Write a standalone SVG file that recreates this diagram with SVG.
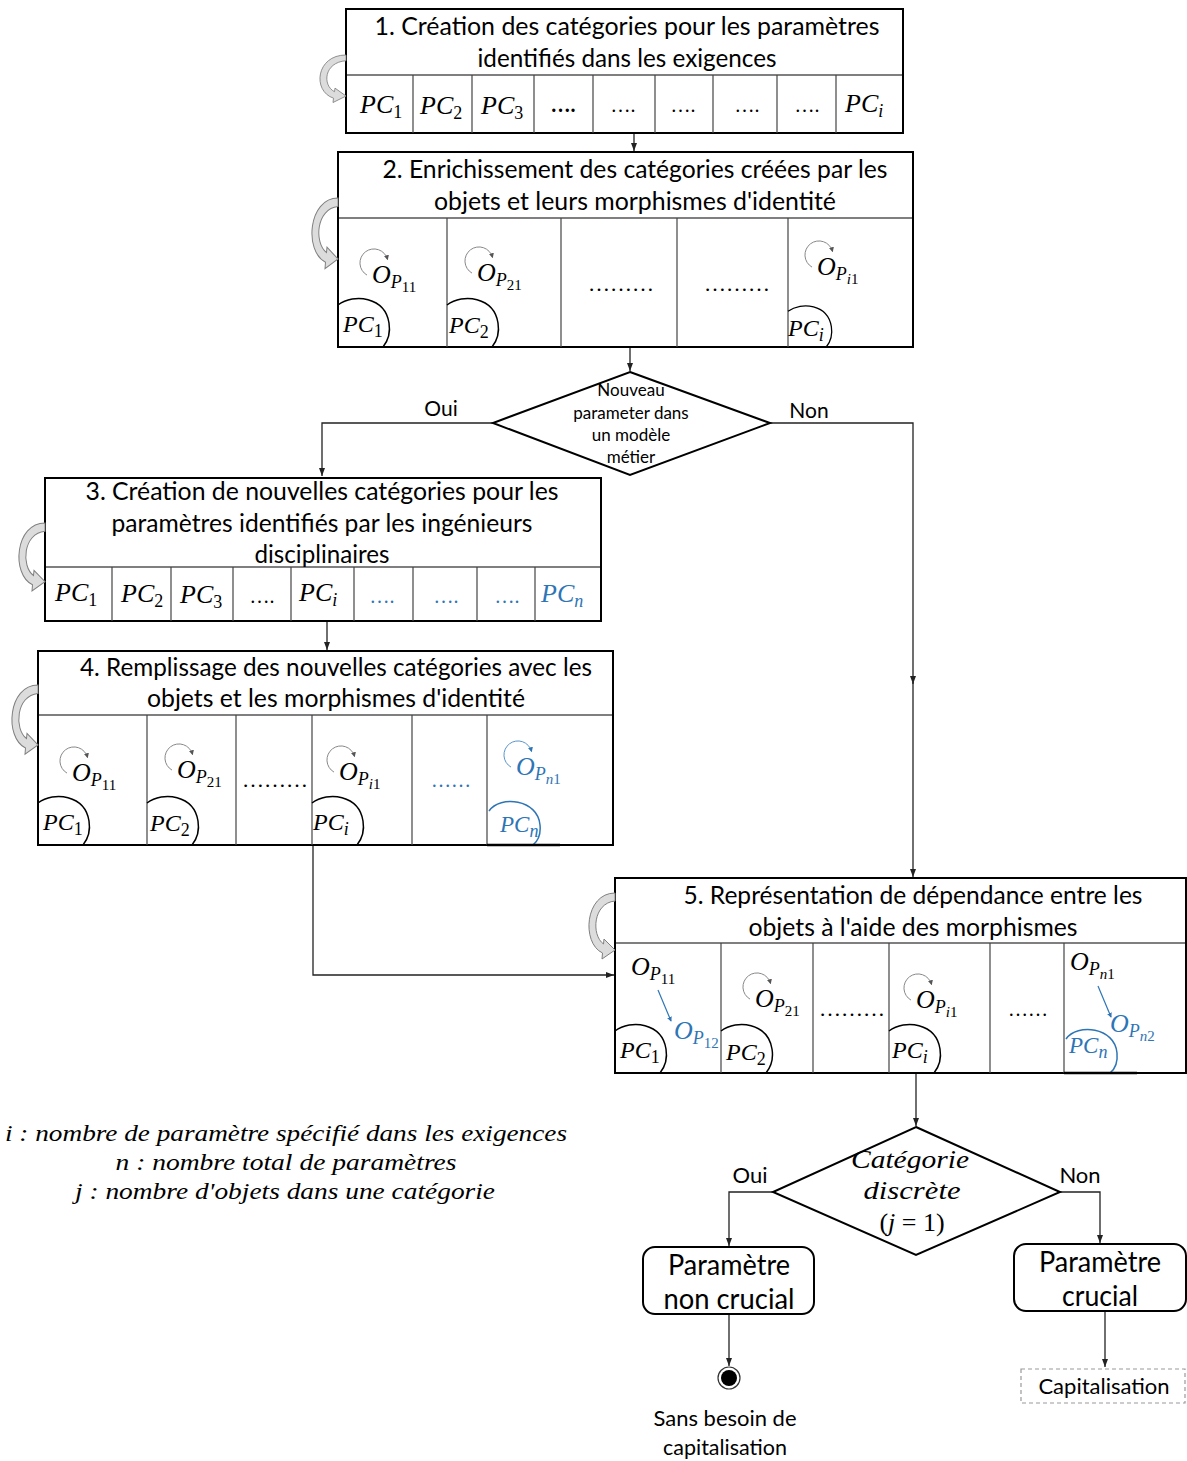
<svg xmlns="http://www.w3.org/2000/svg" xmlns:xlink="http://www.w3.org/1999/xlink" width="1187" height="1461" viewBox="0 0 1187 1461">
<style>
.box{fill:#fff;stroke:#000;stroke-width:2}
.hd{stroke:#000;stroke-width:1.2}
.cd{stroke:#444;stroke-width:1.2}
.t{font-family:Lato,"Open Sans",sans-serif;font-size:25px;fill:#000;text-anchor:middle}
.sm{font-size:17px}
.lb{font-size:21px}
.lb2{font-size:22px}
.big{font-size:28px}
.m{font-family:"Liberation Serif",serif;font-style:italic;font-size:26px;fill:#000}
.c{font-size:24px}
.c23{font-size:23px}
.lg{font-size:24px}
.o{font-family:"Liberation Serif",serif;font-style:italic;font-size:26px;fill:#000}
.p{font-size:18px}
.n{font-size:15px;font-style:normal}
.sb{font-size:18px;font-style:normal}
.it{font-style:italic}
.dots{font-family:"Liberation Serif",serif;font-size:20px;fill:#000;text-anchor:middle}
.d22{font-size:22px}
.blue{fill:#2E75B6}
.conn{fill:none;stroke:#222;stroke-width:1.3}
.curv{fill:#dcdcdc;stroke:#808080;stroke-width:1}
.pcarc{fill:none;stroke:#000;stroke-width:1.5}
.pcarcb{fill:none;stroke:#2E75B6;stroke-width:1.5}
</style>
<defs>
<marker id="ah" viewBox="0 0 8 6" refX="8" refY="3" markerWidth="8" markerHeight="6" markerUnits="userSpaceOnUse" orient="auto"><path d="M0 0 L8 3 L0 6 Z" fill="#222"/></marker>
<marker id="lah" viewBox="0 0 6 6" refX="5" refY="3" markerWidth="5" markerHeight="5" markerUnits="userSpaceOnUse" orient="auto"><path d="M0 0 L6 3 L0 6 Z" fill="#555"/></marker>
<marker id="lahb" viewBox="0 0 6 6" refX="5" refY="3" markerWidth="5" markerHeight="5" markerUnits="userSpaceOnUse" orient="auto"><path d="M0 0 L6 3 L0 6 Z" fill="#2E75B6"/></marker>
<path id="lp" d="M -7 12.1 A 14 14 0 1 1 13.5 -3.6" fill="none" stroke="#888" stroke-width="1" marker-end="url(#lah)"/>
<path id="lpb" d="M -7 12.1 A 14 14 0 1 1 13.5 -3.6" fill="none" stroke="#5a95cc" stroke-width="1" marker-end="url(#lahb)"/>
<path id="pa" class="pcarc" d="M 0 -42 C 16 -54, 47 -50, 51 -24 C 53 -12, 49 -5, 45 0"/>
<path id="pab" class="pcarcb" d="M 1 -34 C 12 -50, 50 -46, 52 -20 C 53 -10, 50 -4, 45 0"/>
<path id="cv" class="curv" d="M 0 0 C -30 0, -34 50, -12.5 60 L -13 66 L 0 57 L -11 46 L -11.5 51 C -24 42, -22 10, 0 8 Z"/>
</defs>

<g id="connectors">
<path class="conn" d="M 634 133 V 151" marker-end="url(#ah)"/>
<path class="conn" d="M 630 347 V 371" marker-end="url(#ah)"/>
<path class="conn" d="M 493 423 H 322 V 476" marker-end="url(#ah)"/>
<path class="conn" d="M 770 423 H 913 V 684" marker-end="url(#ah)"/>
<path class="conn" d="M 913 682 V 877" marker-end="url(#ah)"/>
<path class="conn" d="M 327 621 V 650" marker-end="url(#ah)"/>
<path class="conn" d="M 313 845 V 975 H 614" marker-end="url(#ah)"/>
<path class="conn" d="M 916 1073 V 1126" marker-end="url(#ah)"/>
<path class="conn" d="M 773 1192 H 729 V 1246" marker-end="url(#ah)"/>
<path class="conn" d="M 1060 1192 H 1100 V 1243" marker-end="url(#ah)"/>
<path class="conn" d="M 729 1314 V 1366" marker-end="url(#ah)"/>
<path class="conn" d="M 1105 1311 V 1367" marker-end="url(#ah)"/>
</g>

<g id="step1">
<rect class="box" x="346" y="9" width="557" height="124"/>
<line class="hd" x1="346" y1="75" x2="903" y2="75"/>
<g class="cd"><line x1="413" y1="75" x2="413" y2="133"/><line x1="472" y1="75" x2="472" y2="133"/><line x1="534" y1="75" x2="534" y2="133"/><line x1="593" y1="75" x2="593" y2="133"/><line x1="655" y1="75" x2="655" y2="133"/><line x1="713" y1="75" x2="713" y2="133"/><line x1="777" y1="75" x2="777" y2="133"/><line x1="836" y1="75" x2="836" y2="133"/></g>
<text class="t" x="627" y="35" textLength="505" lengthAdjust="spacingAndGlyphs">1. Création des catégories pour les paramètres</text>
<text class="t" x="627" y="67" textLength="299" lengthAdjust="spacingAndGlyphs">identifiés dans les exigences</text>
<text class="m" x="360" y="113">PC<tspan class="sb" dy="5">1</tspan></text>
<text class="m" x="420" y="114">PC<tspan class="sb" dy="5">2</tspan></text>
<text class="m" x="481" y="114">PC<tspan class="sb" dy="5">3</tspan></text>
<text class="dots" x="563" y="112" font-weight="bold">….</text>
<text class="dots" x="623" y="112">….</text>
<text class="dots" x="683" y="112">….</text>
<text class="dots" x="747" y="112">….</text>
<text class="dots" x="807" y="112">….</text>
<text class="m" x="845" y="112">PC<tspan class="sb it" dy="5">i</tspan></text>
<use href="#cv" transform="translate(346,55) scale(1,0.72)"/>
</g>

<g id="step2">
<rect class="box" x="338" y="152" width="575" height="195"/>
<line class="hd" x1="338" y1="218" x2="913" y2="218"/>
<g class="cd"><line x1="447" y1="218" x2="447" y2="347"/><line x1="561" y1="218" x2="561" y2="347"/><line x1="677" y1="218" x2="677" y2="347"/><line x1="788" y1="218" x2="788" y2="347"/></g>
<text class="t" x="635" y="178" textLength="505" lengthAdjust="spacingAndGlyphs">2. Enrichissement des catégories créées par les</text>
<text class="t" x="635" y="210" textLength="402" lengthAdjust="spacingAndGlyphs">objets et leurs morphismes d'identité</text>
<use href="#lp" transform="translate(374,263)"/>
<text class="o" x="372" y="283">O<tspan class="p" dy="5">P</tspan><tspan class="n" dy="4">11</tspan></text>
<use href="#lp" transform="translate(479,261)"/>
<text class="o" x="477" y="281">O<tspan class="p" dy="5">P</tspan><tspan class="n" dy="4">21</tspan></text>
<text class="dots d22" x="621" y="291">………</text>
<text class="dots d22" x="737" y="291">………</text>
<use href="#lp" transform="translate(819,255)"/>
<text class="o" x="817" y="275">O<tspan class="p" dy="5">P</tspan><tspan class="n" dy="4"><tspan class="it">i</tspan>1</tspan></text>
<use href="#pa" transform="translate(338,347)"/>
<text class="m c" x="343" y="332">PC<tspan class="sb" dy="5">1</tspan></text>
<use href="#pa" transform="translate(447,347)"/>
<text class="m c" x="449" y="333">PC<tspan class="sb" dy="5">2</tspan></text>
<use href="#pa" transform="translate(788,347) scale(0.85)"/>
<text class="m c" x="788" y="336">PC<tspan class="sb it" dy="5">i</tspan></text>
<use href="#cv" transform="translate(338,198) scale(1,1.07)"/>
</g>

<g id="decision1">
<polygon points="630,372 770,423 630,475 493,423" fill="#fff" stroke="#000" stroke-width="2"/>
<text class="t sm" x="631" y="396">Nouveau</text>
<text class="t sm" x="631" y="419">parameter dans</text>
<text class="t sm" x="631" y="441">un modèle</text>
<text class="t sm" x="631" y="463">métier</text>
<text class="t lb" x="441" y="416">Oui</text>
<text class="t lb" x="809" y="418">Non</text>
</g>

<g id="step3">
<rect class="box" x="45" y="478" width="556" height="143"/>
<line class="hd" x1="45" y1="567" x2="601" y2="567"/>
<g class="cd"><line x1="112" y1="567" x2="112" y2="621"/><line x1="171" y1="567" x2="171" y2="621"/><line x1="233" y1="567" x2="233" y2="621"/><line x1="291" y1="567" x2="291" y2="621"/><line x1="354" y1="567" x2="354" y2="621"/><line x1="413" y1="567" x2="413" y2="621"/><line x1="477" y1="567" x2="477" y2="621"/><line x1="535" y1="567" x2="535" y2="621"/></g>
<text class="t" x="322" y="500" textLength="473" lengthAdjust="spacingAndGlyphs">3. Création de nouvelles catégories pour les</text>
<text class="t" x="322" y="532" textLength="421" lengthAdjust="spacingAndGlyphs">paramètres identifiés par les ingénieurs</text>
<text class="t" x="322" y="563" textLength="135" lengthAdjust="spacingAndGlyphs">disciplinaires</text>
<text class="m" x="55" y="601">PC<tspan class="sb" dy="5">1</tspan></text>
<text class="m" x="121" y="602">PC<tspan class="sb" dy="5">2</tspan></text>
<text class="m" x="180" y="603">PC<tspan class="sb" dy="5">3</tspan></text>
<text class="dots" x="262" y="603">….</text>
<text class="m" x="299" y="601">PC<tspan class="sb it" dy="5">i</tspan></text>
<text class="dots blue" x="382" y="603">….</text>
<text class="dots blue" x="446" y="603">….</text>
<text class="dots blue" x="507" y="603">….</text>
<text class="m blue" x="541" y="602">PC<tspan class="sb it" dy="5">n</tspan></text>
<use href="#cv" transform="translate(45,523) scale(1,1.03)"/>
</g>

<g id="step4">
<rect class="box" x="38" y="651" width="575" height="194"/>
<line class="hd" x1="38" y1="715" x2="613" y2="715"/>
<g class="cd"><line x1="147" y1="715" x2="147" y2="845"/><line x1="236" y1="715" x2="236" y2="845"/><line x1="312" y1="715" x2="312" y2="845"/><line x1="412" y1="715" x2="412" y2="845"/><line x1="487" y1="715" x2="487" y2="845"/></g>
<text class="t" x="336" y="676" textLength="512" lengthAdjust="spacingAndGlyphs">4. Remplissage des nouvelles catégories avec les</text>
<text class="t" x="336" y="707" textLength="378" lengthAdjust="spacingAndGlyphs">objets et les morphismes d'identité</text>
<use href="#lp" transform="translate(74,761)"/>
<text class="o" x="72" y="781">O<tspan class="p" dy="5">P</tspan><tspan class="n" dy="4">11</tspan></text>
<use href="#lp" transform="translate(179,758)"/>
<text class="o" x="177" y="778">O<tspan class="p" dy="5">P</tspan><tspan class="n" dy="4">21</tspan></text>
<text class="dots d22" x="275" y="787">………</text>
<use href="#lp" transform="translate(341,760)"/>
<text class="o" x="339" y="780">O<tspan class="p" dy="5">P</tspan><tspan class="n" dy="4"><tspan class="it">i</tspan>1</tspan></text>
<text class="dots blue" x="451" y="787">……</text>
<use href="#lpb" transform="translate(518,755)"/>
<text class="o blue" x="516" y="775">O<tspan class="p" dy="5">P</tspan><tspan class="n" dy="4"><tspan class="it">n</tspan>1</tspan></text>
<use href="#pa" transform="translate(38,845)"/>
<text class="m c" x="43" y="830">PC<tspan class="sb" dy="5">1</tspan></text>
<use href="#pa" transform="translate(147,845)"/>
<text class="m c" x="150" y="831">PC<tspan class="sb" dy="5">2</tspan></text>
<use href="#pa" transform="translate(312,845)"/>
<text class="m c" x="313" y="830">PC<tspan class="sb it" dy="5">i</tspan></text>
<use href="#pab" transform="translate(488,845)"/>
<text class="m c23 blue" x="500" y="832">PC<tspan class="sb it" dy="5">n</tspan></text>
<line x1="487" y1="845" x2="560" y2="845" stroke="#000" stroke-width="2.5"/>
<use href="#cv" transform="translate(38,685) scale(1,1.05)"/>
</g>

<g id="step5">
<rect class="box" x="615" y="878" width="571" height="195"/>
<line class="hd" x1="615" y1="943" x2="1187" y2="943"/>
<g class="cd"><line x1="721" y1="943" x2="721" y2="1073"/><line x1="813" y1="943" x2="813" y2="1073"/><line x1="889" y1="943" x2="889" y2="1073"/><line x1="990" y1="943" x2="990" y2="1073"/><line x1="1064" y1="943" x2="1064" y2="1073"/></g>
<text class="t" x="913" y="904" textLength="459" lengthAdjust="spacingAndGlyphs">5. Représentation de dépendance entre les</text>
<text class="t" x="913" y="936" textLength="329" lengthAdjust="spacingAndGlyphs">objets à l'aide des morphismes</text>
<text class="o" x="631" y="975">O<tspan class="p" dy="5">P</tspan><tspan class="n" dy="4">11</tspan></text>
<line x1="658" y1="990" x2="671" y2="1021" stroke="#2E75B6" stroke-width="1.2" marker-end="url(#lahb)"/>
<text class="o blue" x="674" y="1039">O<tspan class="p" dy="5">P</tspan><tspan class="n" dy="4">12</tspan></text>
<use href="#lp" transform="translate(757,987)"/>
<text class="o" x="755" y="1007">O<tspan class="p" dy="5">P</tspan><tspan class="n" dy="4">21</tspan></text>
<text class="dots d22" x="852" y="1016">………</text>
<use href="#lp" transform="translate(918,988)"/>
<text class="o" x="916" y="1008">O<tspan class="p" dy="5">P</tspan><tspan class="n" dy="4"><tspan class="it">i</tspan>1</tspan></text>
<text class="dots" x="1028" y="1016">……</text>
<text class="o" x="1070" y="970">O<tspan class="p" dy="5">P</tspan><tspan class="n" dy="4"><tspan class="it">n</tspan>1</tspan></text>
<line x1="1098" y1="986" x2="1111" y2="1017" stroke="#2E75B6" stroke-width="1.2" marker-end="url(#lahb)"/>
<text class="o blue" x="1110" y="1032">O<tspan class="p" dy="5">P</tspan><tspan class="n" dy="4"><tspan class="it">n</tspan>2</tspan></text>
<use href="#pa" transform="translate(615,1073)"/>
<text class="m c" x="620" y="1058">PC<tspan class="sb" dy="5">1</tspan></text>
<use href="#pa" transform="translate(721,1073)"/>
<text class="m c" x="726" y="1060">PC<tspan class="sb" dy="5">2</tspan></text>
<use href="#pa" transform="translate(889,1073)"/>
<text class="m c" x="892" y="1058">PC<tspan class="sb it" dy="5">i</tspan></text>
<use href="#pab" transform="translate(1065,1073)"/>
<text class="m c23 blue" x="1069" y="1053">PC<tspan class="sb it" dy="5">n</tspan></text>
<line x1="1064" y1="1073" x2="1137" y2="1073" stroke="#000" stroke-width="2.5"/>
<use href="#cv" transform="translate(615,893) scale(1,1.0)"/>
</g>

<g id="decision2">
<polygon points="916,1127 1060,1192 916,1255 773,1192" fill="#fff" stroke="#000" stroke-width="2"/>
<text class="m" x="910" y="1168" text-anchor="middle" textLength="118" lengthAdjust="spacingAndGlyphs">Catégorie</text>
<text class="m" x="912" y="1199" text-anchor="middle" textLength="97" lengthAdjust="spacingAndGlyphs">discrète</text>
<text class="m" x="912" y="1231" text-anchor="middle"><tspan font-style="normal">(</tspan>j<tspan font-style="normal"> = 1)</tspan></text>
<text class="t lb2" x="750" y="1183">Oui</text>
<text class="t lb2" x="1080" y="1183">Non</text>
</g>

<g id="non-crucial">
<rect x="643" y="1247" width="171" height="67" rx="12" fill="#fff" stroke="#000" stroke-width="2"/>
<text class="t big" x="729" y="1275" textLength="122" lengthAdjust="spacingAndGlyphs">Paramètre</text>
<text class="t big" x="729" y="1309" textLength="131" lengthAdjust="spacingAndGlyphs">non crucial</text>
</g>

<g id="crucial">
<rect x="1014" y="1244" width="172" height="67" rx="12" fill="#fff" stroke="#000" stroke-width="2"/>
<text class="t big" x="1100" y="1272" textLength="122" lengthAdjust="spacingAndGlyphs">Paramètre</text>
<text class="t big" x="1100" y="1306" textLength="76" lengthAdjust="spacingAndGlyphs">crucial</text>
</g>

<g id="end">
<circle cx="729" cy="1378" r="11" fill="#fff" stroke="#333" stroke-width="1.2"/>
<circle cx="729" cy="1378" r="8" fill="#000"/>
<text class="t lb" x="725" y="1426" textLength="143" lengthAdjust="spacingAndGlyphs">Sans besoin de</text>
<text class="t lb" x="725" y="1455" textLength="124" lengthAdjust="spacingAndGlyphs">capitalisation</text>
</g>

<g id="capitalisation">
<rect x="1021" y="1369" width="164" height="34" fill="#fff" stroke="#999" stroke-width="1.2" stroke-dasharray="4 3"/>
<text class="t lb2" x="1104" y="1394">Capitalisation</text>
</g>

<g id="legend">
<text class="m lg" x="286" y="1141" text-anchor="middle" textLength="562" lengthAdjust="spacingAndGlyphs">i : nombre de paramètre spécifié dans les exigences</text>
<text class="m lg" x="286" y="1170" text-anchor="middle" textLength="341" lengthAdjust="spacingAndGlyphs">n : nombre total de paramètres</text>
<text class="m lg" x="285" y="1199" text-anchor="middle" textLength="420" lengthAdjust="spacingAndGlyphs">j : nombre d'objets dans une catégorie</text>
</g>
</svg>
